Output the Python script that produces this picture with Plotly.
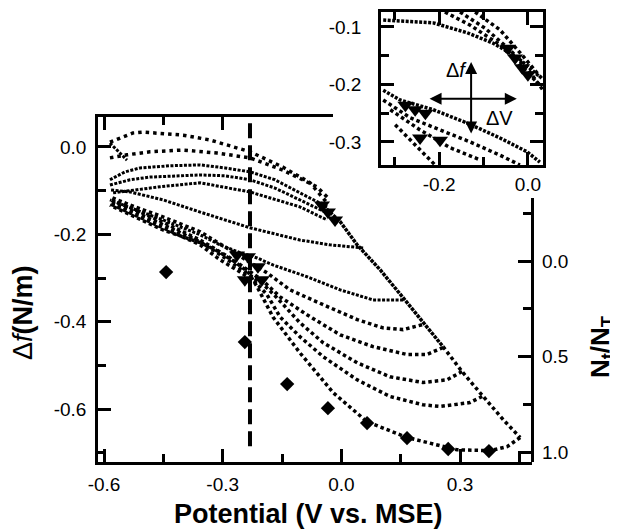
import plotly.graph_objects as go

# Values
# Main panel: potential (V vs. MSE) against frequency shift (N/m)

# upper (anodic) branches, from -0.6 V to where they meet the diagonal
u1_x = [-0.585, -0.527, -0.501, -0.400, -0.332, -0.274, -0.231, -0.148, -0.079, -0.036]
u1_y = [0.011, 0.032, 0.034, 0.027, 0.016, 0.000, -0.011, -0.046, -0.082, -0.128]
u2_x = [-0.585, -0.542, -0.484, -0.400, -0.314, -0.231, -0.148, -0.062, -0.029]
u2_y = [-0.025, -0.018, -0.011, -0.007, -0.014, -0.025, -0.053, -0.091, -0.121]
u3_x = [-0.585, -0.547, -0.509, -0.433, -0.357, -0.294, -0.231, -0.168, -0.105, -0.036]
u3_y = [-0.075, -0.057, -0.048, -0.043, -0.041, -0.048, -0.057, -0.075, -0.105, -0.137]
u4_x = [-0.585, -0.534, -0.484, -0.421, -0.357, -0.294, -0.231, -0.168, -0.105, -0.036]
u4_y = [-0.087, -0.075, -0.069, -0.066, -0.064, -0.066, -0.075, -0.094, -0.121, -0.151]
u5_x = [-0.577, -0.458, -0.357, -0.231, -0.105, -0.036]
u5_y = [-0.105, -0.091, -0.082, -0.103, -0.137, -0.167]
start_x = [-0.585, -0.542]
start_y = [0.009, -0.030]

# outer anodic sweep (diagonal), dense part and sparse part
diag_x = [-0.054, -0.036, -0.003, 0.040, 0.098, 0.156, 0.206, 0.257]
diag_y = [-0.128, -0.144, -0.171, -0.224, -0.281, -0.345, -0.402, -0.457]
diag2_x = [0.257, 0.305, 0.350, 0.409, 0.452]
diag2_y = [-0.457, -0.514, -0.562, -0.624, -0.665]

# lower (cathodic) branches, from each turning point back to -0.6 V
c0_x = [0.055, -0.029, -0.105, -0.231, -0.357, -0.451, -0.534, -0.585]
c0_y = [-0.231, -0.224, -0.213, -0.185, -0.149, -0.121, -0.103, -0.098]
c1_x = [0.156, 0.080, -0.003, -0.087, -0.173, -0.213, -0.256, -0.307, -0.357, -0.451, -0.534, -0.585]
c1_y = [-0.350, -0.350, -0.327, -0.297, -0.270, -0.254, -0.242, -0.224, -0.201, -0.167, -0.139, -0.121]
c2_x = [0.204, 0.156, 0.105, 0.040, -0.046, -0.130, -0.188, -0.231, -0.274, -0.357, -0.451, -0.534, -0.585]
c2_y = [-0.407, -0.418, -0.414, -0.395, -0.361, -0.327, -0.288, -0.263, -0.240, -0.194, -0.160, -0.133, -0.114]
c3_x = [0.257, 0.216, 0.166, 0.080, -0.003, -0.087, -0.155, -0.201, -0.244, -0.281, -0.357, -0.451, -0.534, -0.585]
c3_y = [-0.459, -0.475, -0.475, -0.457, -0.430, -0.384, -0.343, -0.304, -0.277, -0.254, -0.213, -0.172, -0.139, -0.121]
c4_x = [0.305, 0.267, 0.206, 0.123, 0.040, -0.046, -0.105, -0.163, -0.201, -0.244, -0.294, -0.357, -0.451, -0.534, -0.585]
c4_y = [-0.514, -0.533, -0.539, -0.526, -0.494, -0.448, -0.402, -0.345, -0.311, -0.286, -0.254, -0.217, -0.178, -0.144, -0.126]
c5_x = [0.356, 0.325, 0.249, 0.206, 0.123, 0.040, -0.046, -0.105, -0.155, -0.188, -0.218, -0.256, -0.307, -0.357, -0.451, -0.534, -0.585]
c5_y = [-0.571, -0.585, -0.594, -0.590, -0.571, -0.533, -0.480, -0.434, -0.389, -0.338, -0.309, -0.286, -0.258, -0.224, -0.185, -0.151, -0.130]
c6_x = [0.452, 0.419, 0.376, 0.292, 0.166, 0.065, -0.021, -0.105, -0.173, -0.213, -0.236, -0.269, -0.319, -0.357, -0.451, -0.534, -0.585]
c6_y = [-0.665, -0.686, -0.695, -0.693, -0.665, -0.629, -0.562, -0.471, -0.389, -0.320, -0.286, -0.263, -0.235, -0.219, -0.190, -0.155, -0.133]

# triangle markers
tri_up_x = [-0.049, -0.034, -0.016]
tri_up_y = [-0.133, -0.149, -0.167]
tri_lo_x = [-0.264, -0.236, -0.211, -0.244, -0.201]
tri_lo_y = [-0.247, -0.251, -0.274, -0.304, -0.304]

# N_t/N_T (right axis), diamonds
nt_x = [-0.443, -0.244, -0.137, -0.034, 0.065, 0.166, 0.270, 0.373]
nt_y = [0.058, 0.424, 0.644, 0.770, 0.848, 0.927, 0.984, 0.995]

# dashed vertical line
vline_x = -0.231
vline_y = [-0.685, 0.0686]

# Inset
in_up_x = [-0.326, -0.288, -0.213, -0.137, -0.079, -0.025, 0.027]
in_up_y = [-0.088, -0.090, -0.093, -0.110, -0.128, -0.152, -0.187]
in_d1_x = [-0.187, -0.130, -0.063, -0.018, 0.027]
in_d1_y = [-0.074, -0.097, -0.131, -0.166, -0.201]
in_d2_x = [-0.153, -0.097, -0.040, 0.004, 0.034]
in_d2_y = [-0.074, -0.102, -0.140, -0.178, -0.210]
in_d3_x = [-0.119, -0.063, -0.013, 0.034]
in_d3_y = [-0.074, -0.105, -0.149, -0.192]
in_lo_x = [-0.326, -0.288, -0.213, -0.137, -0.063, -0.002, 0.027]
in_lo_y = [-0.210, -0.227, -0.244, -0.267, -0.293, -0.317, -0.335]
in_e1_x = [-0.326, -0.265, -0.198, -0.130, -0.063, -0.018]
in_e1_y = [-0.227, -0.258, -0.279, -0.300, -0.323, -0.340]
in_e2_x = [-0.310, -0.243, -0.175, -0.108]
in_e2_y = [-0.244, -0.279, -0.310, -0.331]
in_e3_x = [-0.299, -0.243, -0.209]
in_e3_y = [-0.270, -0.314, -0.340]
in_tri_up_x = [-0.045, -0.029, -0.013, 0.000]
in_tri_up_y = [-0.137, -0.154, -0.171, -0.183]
in_tri_lo_x = [-0.276, -0.254, -0.231, -0.243, -0.198]
in_tri_lo_y = [-0.236, -0.244, -0.250, -0.293, -0.297]

# arrows in the inset
arrow_h_x = [-0.225, -0.025]
arrow_h_y = -0.225
arrow_v_x = -0.128
arrow_v_y = [-0.161, -0.288]

# tick labels
x_ticks = [-0.6, -0.3, 0.0, 0.3]
x_ticktext = ['-0.6', '-0.3', '0.0', '0.3']
y_ticks = [-0.6, -0.4, -0.2, 0.0]
y_ticktext = ['-0.6', '-0.4', '-0.2', '0.0']
nt_ticks = [0.0, 0.5, 1.0]
nt_ticktext = ['0.0', '0.5', '1.0']
in_x_ticks = [-0.2, 0.0]
in_x_ticktext = ['-0.2', '0.0']
in_y_ticks = [-0.3, -0.2, -0.1]
in_y_ticktext = ['-0.3', '-0.2', '-0.1']

FONT = 'Liberation Sans, Arial, sans-serif'

fig = go.Figure()


def add_curve(x, y, dash, width=3, xaxis='x', yaxis='y'):
    fig.add_trace(go.Scatter(x=x, y=y, mode='lines', xaxis=xaxis, yaxis=yaxis,
                             line=dict(color='black', width=width, dash=dash),
                             showlegend=False, hoverinfo='skip'))


sparse = '3.5px,3px'
dense = '3px,1.5px'

# main curves
add_curve(u1_x, u1_y, '3.5px,4px', 3.5)
add_curve(u2_x, u2_y, '3.5px,4px', 3.5)
add_curve(u3_x, u3_y, dense)
add_curve(u4_x, u4_y, dense)
add_curve(u5_x, u5_y, dense)
add_curve(start_x, start_y, dense)
add_curve(diag_x, diag_y, '3.5px,1px', 3.5)
add_curve(diag2_x, diag2_y, sparse, 3.5)
add_curve(c0_x, c0_y, dense)
add_curve(c1_x, c1_y, dense)
add_curve(c2_x, c2_y, sparse, 3.5)
add_curve(c3_x, c3_y, sparse, 3.5)
add_curve(c4_x, c4_y, sparse, 3.5)
add_curve(c5_x, c5_y, sparse, 3.5)
add_curve(c6_x, c6_y, sparse, 3.5)

# dashed line
add_curve([vline_x, vline_x], vline_y, '15px,7px', 4)

# markers
fig.add_trace(go.Scatter(x=tri_up_x + tri_lo_x, y=tri_up_y + tri_lo_y, mode='markers',
                         marker=dict(symbol='triangle-down', size=14, color='black'),
                         showlegend=False, hoverinfo='skip'))
fig.add_trace(go.Scatter(x=nt_x, y=nt_y, mode='markers', xaxis='x', yaxis='y3',
                         marker=dict(symbol='diamond', size=11, color='black'),
                         showlegend=False, hoverinfo='skip'))

# dummy trace so the top axis line gets drawn
fig.add_trace(go.Scatter(x=[None], y=[None], xaxis='x4', yaxis='y', showlegend=False))

# inset curves
add_curve(in_up_x, in_up_y, dense, 3.5, 'x2', 'y2')
add_curve(in_d1_x, in_d1_y, '3.5px,3px', 3.5, 'x2', 'y2')
add_curve(in_d2_x, in_d2_y, '3.5px,3px', 3.5, 'x2', 'y2')
add_curve(in_d3_x, in_d3_y, '3.5px,3px', 3.5, 'x2', 'y2')
add_curve(in_lo_x, in_lo_y, dense, 3.5, 'x2', 'y2')
add_curve(in_e1_x, in_e1_y, '3.5px,3px', 3.5, 'x2', 'y2')
add_curve(in_e2_x, in_e2_y, '3.5px,3px', 3.5, 'x2', 'y2')
add_curve(in_e3_x, in_e3_y, '3.5px,3px', 3.5, 'x2', 'y2')
fig.add_trace(go.Scatter(x=in_tri_up_x + in_tri_lo_x, y=in_tri_up_y + in_tri_lo_y, mode='markers',
                         xaxis='x2', yaxis='y2',
                         marker=dict(symbol='triangle-down', size=14, color='black'),
                         showlegend=False, hoverinfo='skip'))

tickfont = dict(family=FONT, size=19, color='black')
axis_style = dict(showline=True, linewidth=2.5, linecolor='black', showgrid=False, zeroline=False,
                  ticks='inside', ticklen=13, tickwidth=2.5, tickcolor='black', tickfont=tickfont)
minor_style = dict(ticks='inside', ticklen=8, tickwidth=2.5, tickcolor='black', showgrid=False)

# the page puts the plot 8px in from the corner, so the figure is 8px smaller
fig.update_layout(
    width=610, height=521,
    margin=dict(l=90, r=60, t=2, b=67),
    paper_bgcolor='white', plot_bgcolor='rgba(0,0,0,0)',
    xaxis=dict(domain=[0, 0.9435], range=[-0.6152, 0.4819], anchor='y',
               tickvals=x_ticks, ticktext=x_ticktext, ticklabelstandoff=3,
               minor=dict(tickvals=[-0.45, -0.15, 0.15, 0.45], **minor_style), **axis_style),
    yaxis=dict(domain=[0, 0.7633], range=[-0.721, 0.0686], anchor='x',
               tickvals=y_ticks, ticktext=y_ticktext, ticklabelstandoff=5,
               minor=dict(tickvals=[-0.7, -0.5, -0.3, -0.1], **minor_style), **axis_style),
    xaxis4=dict(domain=[0, 0.5109], range=[-0.6152, -0.0212], anchor='y', side='top',
                tickvals=[-0.6, -0.3], showticklabels=False,
                minor=dict(tickvals=[-0.45], **minor_style), **axis_style),
    yaxis3=dict(domain=[0, 0.5841], range=[1.052, -0.33], anchor='free', position=0.9435,
                side='right', tickvals=nt_ticks, showticklabels=False,
                minor=dict(tickvals=[-0.25, 0.25, 0.75], **minor_style), **axis_style),
    xaxis2=dict(domain=[0.6152, 0.9674], range=[-0.331, 0.034], anchor='y2', mirror='ticks',
                tickvals=in_x_ticks, ticktext=in_x_ticktext, ticklabelstandoff=0,
                minor=dict(tickvals=[-0.3, -0.1], **minor_style), **axis_style),
    yaxis2=dict(domain=[0.6571, 0.9956], range=[-0.34, -0.074], anchor='x2', mirror='ticks',
                tickvals=in_y_ticks, ticktext=in_y_ticktext, ticklabelstandoff=13,
                minor=dict(tickvals=[-0.25, -0.15], **minor_style), **axis_style),
)

# right axis tick labels
for val, txt in zip(nt_ticks, nt_ticktext):
    fig.add_annotation(text=txt, x=0.9609, xref='paper', y=val, yref='y3', showarrow=False,
                       xanchor='left', yanchor='middle', font=tickfont)

# axis titles
fig.add_annotation(text='<b>Potential (V vs. MSE)</b>', xref='paper', yref='paper',
                   x=0.4576, y=-0.115, showarrow=False, xanchor='center', yanchor='middle',
                   font=dict(family=FONT, size=27, color='black'))
fig.add_annotation(text='Δ<i>f</i><b>(N/m)</b>', xref='paper', yref='paper',
                   x=-0.163, y=0.3296, showarrow=False, textangle=-90,
                   xanchor='center', yanchor='middle',
                   font=dict(family=FONT, size=27, color='black'))
fig.add_annotation(text='<b>N<sub>t</sub>/N<sub>T</sub></b>', xref='paper', yref='paper',
                   x=1.0935, y=0.2544, showarrow=False, textangle=-90,
                   xanchor='center', yanchor='middle',
                   font=dict(family=FONT, size=26, color='black'))

# inset arrows and labels
fig.add_annotation(x=arrow_h_x[1], y=arrow_h_y, ax=arrow_h_x[0], ay=arrow_h_y,
                   xref='x2', yref='y2', axref='x2', ayref='y2', text='',
                   showarrow=True, arrowhead=2, arrowside='end+start', arrowwidth=2,
                   arrowsize=1.2, arrowcolor='black')
fig.add_annotation(x=arrow_v_x, y=arrow_v_y[0], ax=arrow_v_x, ay=arrow_v_y[1],
                   xref='x2', yref='y2', axref='x2', ayref='y2', text='',
                   showarrow=True, arrowhead=2, arrowside='end+start', arrowwidth=2,
                   arrowsize=1.2, arrowcolor='black')
fig.add_annotation(text='Δ<i>f</i>', x=-0.160, y=-0.175, xref='x2', yref='y2', showarrow=False,
                   font=dict(family=FONT, size=20, color='black'))
fig.add_annotation(text='ΔV', x=-0.063, y=-0.258, xref='x2', yref='y2', showarrow=False,
                   font=dict(family=FONT, size=20, color='black'))

fig.write_html('out.html')
